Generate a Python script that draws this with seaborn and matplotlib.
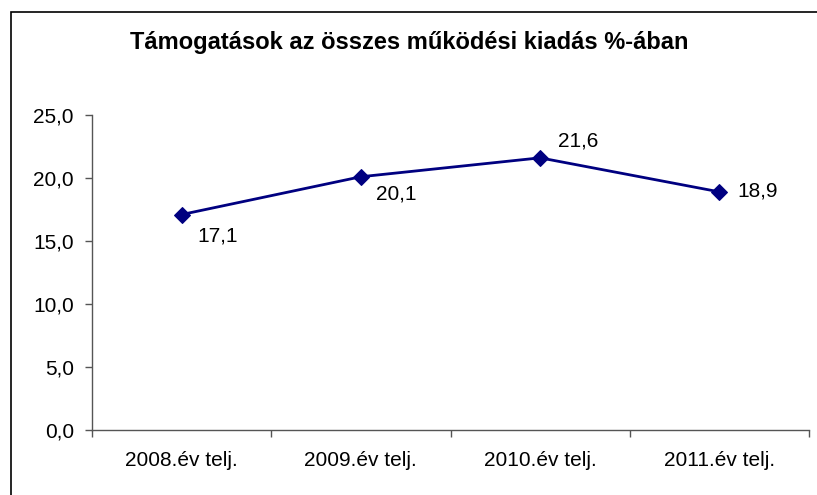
import matplotlib
matplotlib.use("Agg")
import matplotlib.pyplot as plt
import matplotlib.ticker as mticker
from matplotlib.patches import Rectangle
import seaborn as sns
import pandas as pd

title = "Támogatások az összes működési kiadás %-ában"
categories = ["2008.év telj.", "2009.év telj.", "2010.év telj.", "2011.év telj."]
values = [17.1, 20.1, 21.6, 18.9]
# label offsets in pixels (dx, dy) for each point
label_offsets = [(36, -21), (35, -17), (38, 17), (38, 1)]

sns.set_style("white", {"text.color": "black"})
plt.rcParams["font.family"] = ["Liberation Sans", "DejaVu Sans"]

df = pd.DataFrame({"cat": categories, "val": values})

fig = plt.figure(figsize=(8.17, 4.95), dpi=100)
ax = fig.add_axes([92 / 817, 1 - 430 / 495, 717 / 817, 315 / 495])

sns.lineplot(data=df, x="cat", y="val", ax=ax, color="#000080", linewidth=2,
             marker="D", markersize=8, markeredgecolor="#000080", sort=False)

for i, (v, (dx, dy)) in enumerate(zip(values, label_offsets)):
    ax.annotate(f"{v:.1f}".replace(".", ","), (i, v), xytext=(dx, dy),
                textcoords="offset pixels", ha="center", va="center",
                fontsize=15, color="black")

ax.set_xlim(-0.5, 3.5)
ax.set_ylim(0, 25)
ax.yaxis.set_major_locator(mticker.MultipleLocator(5))
ax.yaxis.set_major_formatter(mticker.FuncFormatter(lambda y, _: f"{y:.1f}".replace(".", ",")))
ax.set_xticks(range(len(categories)))
ax.set_xticklabels(categories)
ax.set_xticks([-0.5, 0.5, 1.5, 2.5, 3.5], minor=True)
ax.tick_params(axis="x", which="major", length=0, pad=15, labelsize=15, labelcolor="black")
ax.tick_params(axis="x", which="minor", length=5, direction="out", color="#555555", width=1, bottom=True)
ax.tick_params(axis="y", length=5, direction="out", color="#555555", width=1, left=True,
               labelsize=15, labelcolor="black", pad=8)
ax.set_xlabel("")
ax.set_ylabel("")
for side in ["top", "right"]:
    ax.spines[side].set_visible(False)
for side in ["left", "bottom"]:
    ax.spines[side].set_color("#555555")
    ax.spines[side].set_linewidth(1)

fig.text(409 / 817, 1 - 43 / 495, title, ha="center", va="center", fontsize=17,
         fontweight="bold", color="black")

# outer chart border (extends beyond the right and bottom edges)
fig.patches.append(Rectangle((11 / 817, -0.1), 1.2, 1 - 12 / 495 + 0.1, transform=fig.transFigure,
                             fill=False, edgecolor="black", linewidth=1.2, clip_on=False))

fig.savefig("out.png", dpi=100)
